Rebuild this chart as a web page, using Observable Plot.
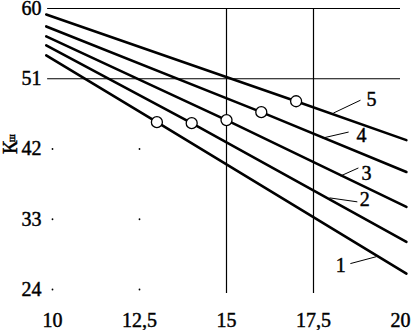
<!DOCTYPE html>
<html><head><meta charset="utf-8">
<script src="https://cdn.jsdelivr.net/npm/d3@7"></script>
<script src="https://cdn.jsdelivr.net/npm/@observablehq/plot@0.6"></script>
<style>html,body{margin:0;padding:0;background:#fff} svg{display:block} svg text{stroke:#000;stroke-width:0.45px}</style>
</head><body><div id="chart"></div>
<script>
// Curves 1..5 (straight lines through the marker point)
const curveIds = [1, 2, 3, 4, 5];
const xStart = 9.82, xEnd = 20.17;
const yStart = [54.0, 55.27, 56.42, 57.70, 59.23];
const yEnd = [26.03, 30.11, 34.58, 39.05, 43.14];
const markerX = [13, 14, 15, 16, 17];
const markerY = [45.44, 45.31, 45.70, 46.72, 48.12];
// axes
const xTicks = [10, 12.5, 15, 17.5, 20];
const yTicks = [24, 33, 42, 51, 60];
// grid
const hGrid = [60, 51];
const hGridExtent = [9.86, 20];
const vGrid = [15, 17.5];
const vGridExtent = [23.5, 60];
const dotX = [10, 12.5];
const dotY = [24, 33, 42];
// curve labels and leaders
const labelX = [18.28, 18.97, 19.02, 18.88, 19.17];
const labelY = [27.06, 35.49, 38.8, 43.66, 48.38];
const leaderFromX = [18.56, 18.76, 18.79, 18.51, 18.85];
const leaderFromY = [27.32, 35.23, 39.57, 44.17, 48.25];
const leaderToX = [19.31, 17.96, 18.28, 17.76, 18.07];
const leaderToY = [28.21, 35.74, 38.55, 43.4, 46.6];
// y axis title
const yTitle = "К", yTitleSub = "ш";

const lineData = curveIds.flatMap((id, i) => [
  {id, x: xStart, y: yStart[i]},
  {id, x: markerX[i], y: markerY[i]},
  {id, x: xEnd, y: yEnd[i]}
]);
const markers = curveIds.map((id, i) => ({id, x: markerX[i], y: markerY[i]}));
const labels = curveIds.map((id, i) => ({id, x: labelX[i], y: labelY[i]}));
const leaders = curveIds.map((id, i) => ({x1: leaderFromX[i], y1: leaderFromY[i], x2: leaderToX[i], y2: leaderToY[i]}));
const dots = dotX.flatMap(x => dotY.map(y => ({x, y})));

const chart = Plot.plot({
  width: 411, height: 330,
  marginLeft: 52, marginRight: 11, marginTop: 8, marginBottom: 41,
  style: {fontFamily: "'Liberation Serif', 'Times New Roman', serif", fontSize: "20px", background: "#fff", color: "#000"},
  x: {domain: [10, 20], ticks: xTicks, tickSize: 0, tickPadding: 23, tickFormat: d => String(d).replace(".", ","), label: null},
  y: {domain: [24, 60], ticks: yTicks, tickSize: 0, tickPadding: 11, label: null},
  marks: [
    Plot.ruleY(hGrid, {y: d => d, x1: hGridExtent[0], x2: hGridExtent[1], stroke: "#000", strokeWidth: 1.2}),
    Plot.ruleX(vGrid, {x: d => d, y1: vGridExtent[0], y2: vGridExtent[1], stroke: "#000", strokeWidth: 1.2}),
    Plot.dot(dots, {x: "x", y: "y", r: 0.9, fill: "#000", stroke: null}),
    Plot.line(lineData, {x: "x", y: "y", z: "id", stroke: "#000", strokeWidth: 2.6}),
    Plot.link(leaders, {x1: "x1", y1: "y1", x2: "x2", y2: "y2", stroke: "#000", strokeWidth: 1}),
    Plot.dot(markers, {x: "x", y: "y", r: 5.5, fill: "#fff", stroke: "#000", strokeWidth: 1.3}),
    Plot.text(labels, {x: "x", y: "y", text: d => String(d.id), fontSize: 20, fill: "#000"}),
    Plot.text([yTitle], {frameAnchor: "left", y: 41.35, dx: -42, rotate: -90, text: d => d, fontSize: 20, fill: "#000"}),
    Plot.text([yTitleSub], {frameAnchor: "left", y: 42.9, dx: -40.5, rotate: -90, text: d => d, fontSize: 10, fill: "#000"})
  ]
});
document.getElementById("chart").appendChild(chart);
</script>
</body></html>
